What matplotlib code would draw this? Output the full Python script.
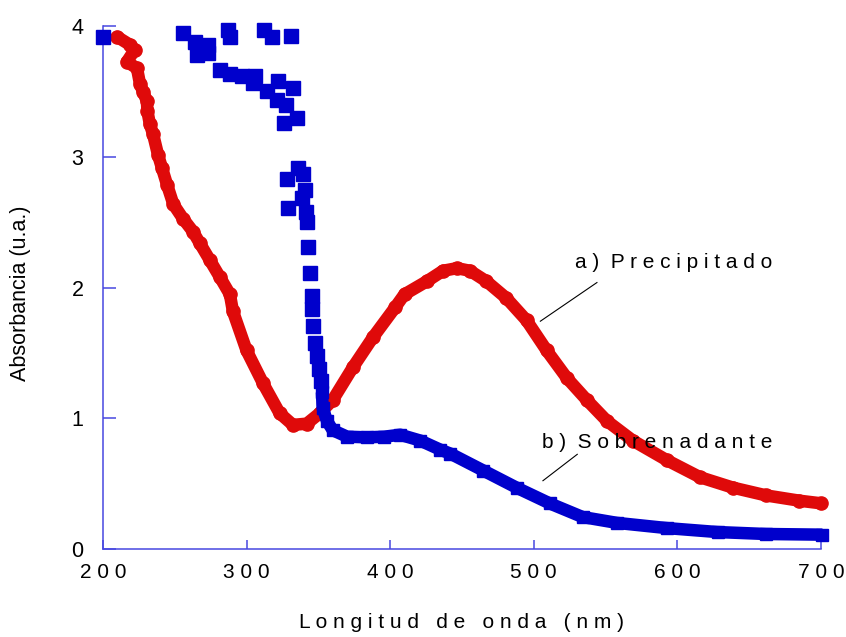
import matplotlib
matplotlib.use("Agg")
import matplotlib.pyplot as plt

plt.rcParams['font.family'] = ['Liberation Sans', 'DejaVu Sans']

# ---- data ----
red_x = [210, 218.8, 222, 216.7, 223.7, 225.8, 227.9, 230.6, 231, 232.7, 234.8, 238.3, 241,
         244.6, 249, 255.7, 262.7, 267.5, 274.5, 281.5, 288.4, 290.5, 300, 311.4, 323,
         332.3, 342, 351, 360, 374, 388, 403.5, 410, 425.6, 436.8, 446.5, 455.6, 467,
         481, 495, 509, 523, 537, 551, 569, 592.7, 615.7, 638.7, 662, 685, 700]
red_y = [3.92, 3.86, 3.82, 3.73, 3.68, 3.56, 3.50, 3.43, 3.35, 3.25, 3.18, 3.02, 2.92,
         2.79, 2.64, 2.53, 2.43, 2.34, 2.21, 2.08, 1.95, 1.82, 1.52, 1.27, 1.04,
         0.95, 0.96, 1.04, 1.14, 1.39, 1.62, 1.85, 1.95, 2.05, 2.13, 2.15, 2.13, 2.05,
         1.92, 1.75, 1.52, 1.31, 1.14, 0.98, 0.83, 0.68, 0.55, 0.47, 0.41, 0.37, 0.35]

# blue: scattered squares (noisy saturated region and steep edge)
blue_pts_x = [200, 255.7, 264, 273, 265.5, 273, 287, 288.4, 312, 317.7, 331, 281.5, 288.4,
              296.8, 306, 304.5, 322, 314, 332, 321, 327.4, 335, 326,
              335.8, 339.3, 328, 340.7, 338.6, 329, 341.4, 342, 342.8, 344, 345.5,
              345.8, 346, 347.6, 349, 350.4, 351.8]
blue_pts_y = [3.92, 3.95, 3.88, 3.86, 3.78, 3.80, 3.97, 3.92, 3.97, 3.92, 3.93, 3.67, 3.64,
              3.62, 3.62, 3.57, 3.58, 3.51, 3.53, 3.44, 3.40, 3.30, 3.26,
              2.92, 2.87, 2.83, 2.75, 2.69, 2.61, 2.58, 2.50, 2.31, 2.11, 1.94,
              1.84, 1.71, 1.58, 1.48, 1.38, 1.29]
# blue: continuous band
blue_band_x = [352.5, 353, 356, 360, 370, 384, 396, 407, 421, 435, 442, 465, 488, 511,
               534, 558, 593, 628, 662, 701]
blue_band_y = [1.20, 1.08, 0.98, 0.91, 0.86, 0.855, 0.86, 0.875, 0.83, 0.76, 0.73, 0.60,
               0.47, 0.35, 0.245, 0.20, 0.16, 0.13, 0.115, 0.11]

x_ticks = [200, 300, 400, 500, 600, 700]
x_ticklabels = ['2 0 0', '3 0 0', '4 0 0', '5 0 0', '6 0 0', '7 0 0']
y_ticks = [0, 1, 2, 3, 4]
y_ticklabels = ['0', '1', '2', '3', '4']

RED = '#DF0A0A'
BLUE = '#0000CC'
AXC = '#4848E0'

fig = plt.figure(figsize=(8.46, 6.37), dpi=100)
ax = fig.add_axes([0.1217, 0.1381, 0.8487, 0.8203])

ax.plot(red_x, red_y, color=RED, lw=9, marker='o', ms=9.5, mec=RED, mfc=RED,
        solid_capstyle='round', solid_joinstyle='round', clip_on=False, zorder=3)
ax.plot(blue_band_x, blue_band_y, color=BLUE, lw=9, marker='s', ms=9, mec=BLUE, mfc=BLUE,
        solid_capstyle='butt', solid_joinstyle='round', clip_on=False, zorder=4)
ax.plot(blue_pts_x, blue_pts_y, ls='none', marker='s', ms=10, mec=BLUE, mfc=BLUE,
        clip_on=False, zorder=4)

ax.set_xlim(200, 700)
ax.set_ylim(0, 4)
ax.set_xticks(x_ticks)
ax.set_xticklabels(x_ticklabels)
ax.set_yticks(y_ticks)
ax.set_yticklabels(y_ticklabels)

for s in ['top', 'right']:
    ax.spines[s].set_visible(False)
for s in ['left', 'bottom']:
    ax.spines[s].set_color(AXC)
    ax.spines[s].set_linewidth(1.1)

ax.tick_params(axis='x', direction='in', length=6.5, width=1.1, color=AXC,
               labelsize=15, pad=10)
ax.tick_params(axis='y', direction='in', length=9, width=1.1, color=AXC,
               labelsize=15.5, pad=14)

ax.set_xlabel('L o n g i t u d   d e   o n d a   ( n m )', fontsize=15)
ax.set_ylabel('Absorbancia (u.a.)', fontsize=15.5)
ax.xaxis.set_label_coords(0.5, -0.123)
ax.yaxis.set_label_coords(-0.100, 0.49)

ax.text(528.5, 2.15, 'a )  P r e c i p i t a d o', fontsize=15, ha='left', va='baseline')
ax.text(505.6, 0.77, 'b )  S o b r e n a d a n t e', fontsize=15, ha='left', va='baseline')
ax.plot([544.0, 504.6], [2.04, 1.744], color='black', lw=0.8, zorder=5)
ax.plot([530.3, 506.4], [0.725, 0.523], color='black', lw=0.8, zorder=5)

fig.savefig('out.png', dpi=100)
